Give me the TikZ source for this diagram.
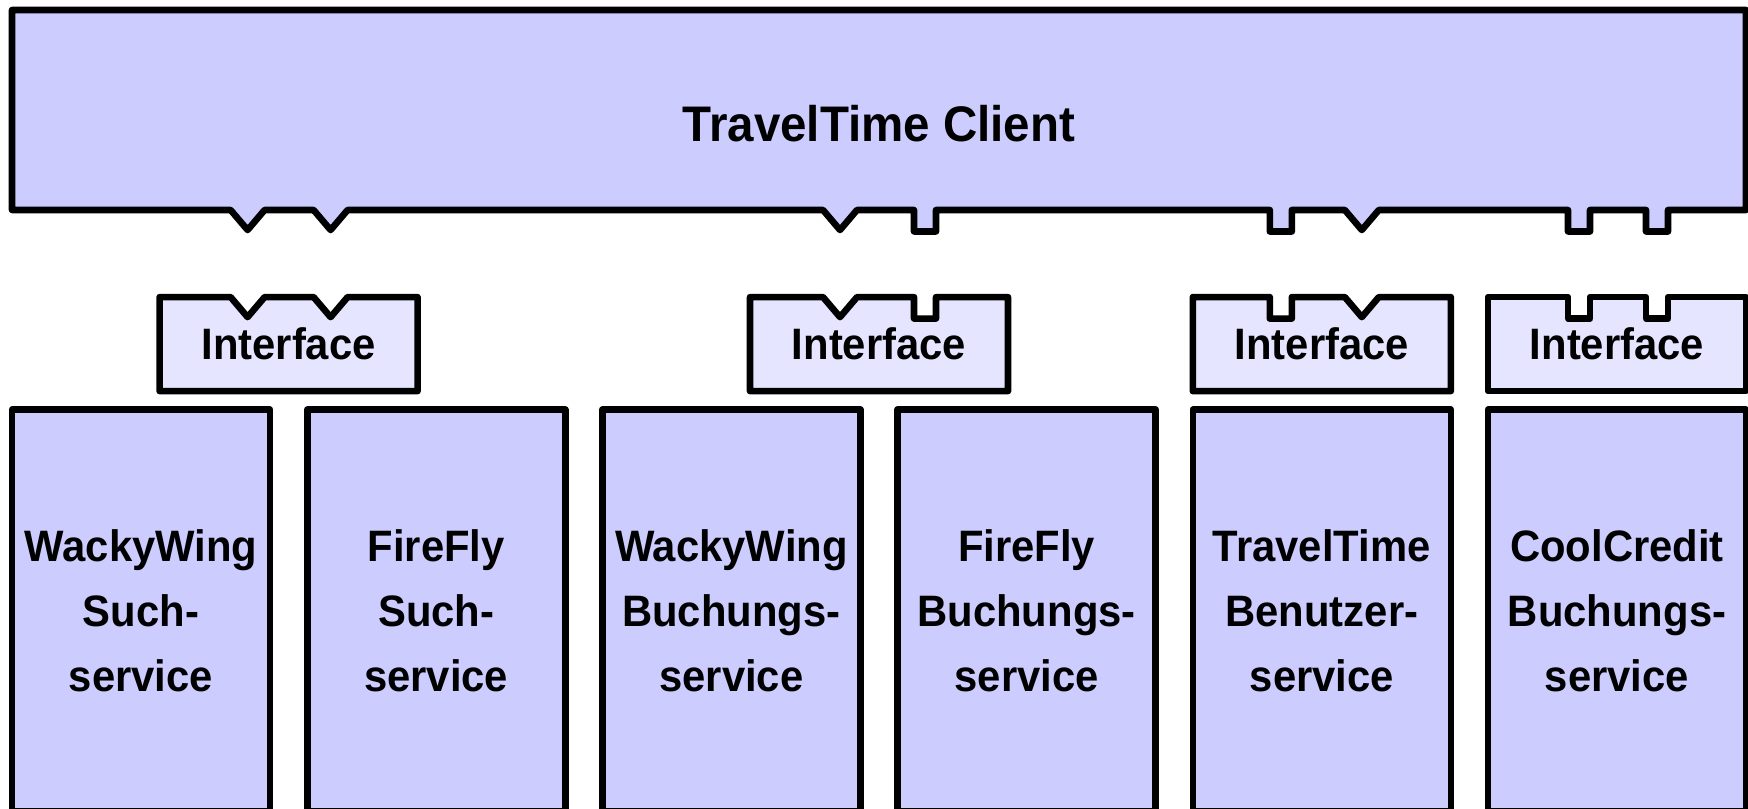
\documentclass[tikz,border=0pt]{standalone}
\usepackage{fontspec}
\setmainfont{Liberation Sans}[FakeStretch=0.95]
\usepackage{xcolor}
\usepackage{tikz}
\usetikzlibrary{backgrounds}
\definecolor{clientblue}{RGB}{204,204,255}
\definecolor{ifaceblue}{RGB}{229,229,255}
\tikzset{
    thickline/.style = {line width=3.3pt, line join=round},
    boxnode/.style = {rectangle, inner sep = 0em, outer sep = 0em, node distance=0em},
    clientnode/.style = {boxnode, minimum width=867pt, minimum height=100pt},
    titlenode/.style = {draw=none, fill=none, rectangle, inner sep = 0em, node distance=0em, 
      font=\fontsize{25}{30}\selectfont\bfseries},
    ifacenode/.style = {boxnode, minimum width=129pt, minimum height=47pt, 
      font=\fontsize{22}{32}\selectfont\bfseries},
    servicenode/.style = {boxnode, thickline, draw, fill=clientblue, minimum width=129pt, 
      minimum height=200.75pt, font=\fontsize{22}{32.4}\selectfont\bfseries},
    clientline/.style = {thickline, draw, fill=clientblue},
    ifaceline/.style = {thickline, draw, fill=ifaceblue},
    vnotch/.style = {insert path={-- ++(17,20) -- ++(17,-20)}},
    unotch/.style = {insert path={-- ++(0,21.5) -- ++(22,0) -- ++(0,-21.5)}},
    every text node part/.style={align=center}
}

\begin{document}
\begin{tikzpicture}[x=0.5pt, y=-0.5pt, thickline]
    \useasboundingbox (0,0) rectangle (1748,808);

    \node [name=s1, servicenode] at (141,610.5) {WackyWing\\Such-\\service};
    \node [name=s2, servicenode, right of = s1, xshift=147.6pt] {FireFly\\Such-\\service};
    \node [name=s3, servicenode, right of = s1, xshift=295.2pt] {WackyWing\\Buchungs-\\service};
    \node [name=s4, servicenode, right of = s1, xshift=442.8pt] {FireFly\\Buchungs-\\service};
    \node [name=s5, servicenode, right of = s1, xshift=590.4pt] {TravelTime\\Benutzer-\\service};
    \node [name=s6, servicenode, right of = s1, xshift=738pt] {CoolCredit\\Buchungs-\\service};

    \node [name=i1, ifacenode, right of = s1, xshift=73.8pt, yshift=133.2pt] {Interface};
    \node [name=i2, ifacenode, right of = s3, xshift=73.8pt, yshift=133.2pt] {Interface};
    \node [name=i3, ifacenode, above of = s5, yshift=133.2pt] {Interface};
    \node [name=i4, ifacenode, above of = s6, yshift=133.2pt] {Interface};

    \node [name=cl, clientnode] at (879,110) {};
    \node [name=title, titlenode, below of = cl, yshift=-6.9pt] {TravelTime Client};

    \begin{scope}[on background layer]
    % client with its plugs
    \draw [clientline] (cl.north west) -- (cl.south west)
        -- (cl.south -| i1.west) -- ++(71,0) [vnotch] -- ++(49,0) [vnotch]
        -- (cl.south -| i2.west) -- ++(73,0) [vnotch] -- ++(57,0) [unotch]
        -- (cl.south -| i3.west) -- ++(77,0) [unotch] -- ++(53,0) [vnotch]
        -- (cl.south -| i4.west) -- ++(80,0) [unotch] -- ++(56,0) [unotch]
        -- (cl.south east) -- (cl.north east) -- cycle;

    % interfaces
    \draw [ifaceline] (i1.south west) -- (i1.north west) -- ++(71,0) [vnotch] -- ++(49,0) [vnotch]
        -- (i1.north east) -- (i1.south east) -- cycle;
    \draw [ifaceline] (i2.south west) -- (i2.north west) -- ++(73,0) [vnotch] -- ++(57,0) [unotch]
        -- (i2.north east) -- (i2.south east) -- cycle;
    \draw [ifaceline] (i3.south west) -- (i3.north west) -- ++(77,0) [unotch] -- ++(53,0) [vnotch]
        -- (i3.north east) -- (i3.south east) -- cycle;
    \draw [ifaceline] (i4.south west) -- (i4.north west) -- ++(80,0) [unotch] -- ++(56,0) [unotch]
        -- (i4.north east) -- (i4.south east) -- cycle;
    \end{scope}
\end{tikzpicture}
\end{document}
